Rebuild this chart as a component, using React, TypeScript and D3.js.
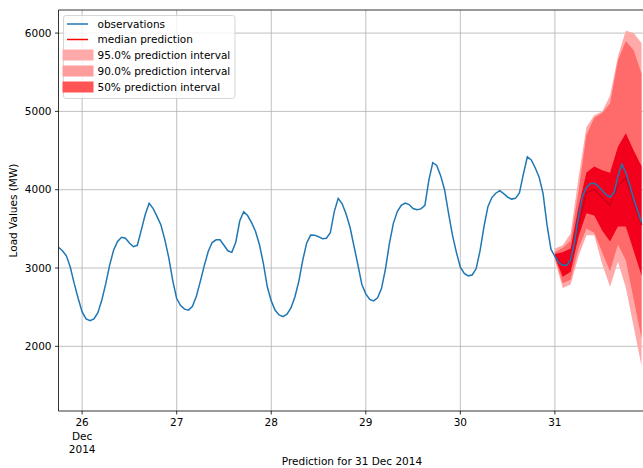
import React from 'react';
import * as d3 from 'd3';

// hourly load, starting 25 Dec 2014 18:00
const obsStart = new Date(2014, 11, 25, 18);
const observations = [
  3265, 3220, 3155, 3010, 2800, 2610,
  2440, 2350, 2327, 2350, 2430, 2591, 2800, 3040, 3230, 3340, 3392, 3380,
  3320, 3272, 3290, 3480, 3680, 3826, 3762, 3660, 3549, 3360, 3130, 2840,
  2610, 2520, 2475, 2462, 2510, 2640, 2830, 3030, 3210, 3325, 3360, 3360,
  3290, 3220, 3200, 3330, 3600, 3719, 3670, 3580, 3470, 3300, 3060, 2760,
  2580, 2460, 2400, 2378, 2410, 2490, 2630, 2830, 3100, 3320, 3421, 3420,
  3400, 3375, 3380, 3450, 3720, 3890, 3820, 3690, 3520, 3280, 3040, 2790,
  2670, 2600, 2580, 2620, 2740, 2990, 3315, 3570, 3720, 3800, 3830, 3810,
  3760, 3745, 3755, 3800, 4120, 4345, 4310, 4180, 4000, 3700, 3420, 3200,
  3010, 2932, 2900, 2911, 2990, 3220, 3530, 3783, 3900, 3955, 3987, 3950,
  3905, 3880, 3890, 3960, 4200, 4421, 4380, 4280, 4160, 3950, 3550, 3240,
  3150, 3070, 3035, 3035, 3102, 3330, 3650, 3911, 4030, 4078, 4082, 4045,
  3990, 3935, 3905, 3960, 4170, 4324, 4220, 4060, 3880, 3730, 3580,
];

// prediction for 31 Dec, every 2 hours
const predStart = new Date(2014, 11, 31, 0);
const predHours = [0, 2, 4, 6, 8, 10, 12, 14, 16, 18, 20, 22];
const median = [3150, 3040, 3080, 3550, 3960, 4000, 3900, 3800, 4050, 4150, 3850, 3550];
const upper95 = [3250, 3290, 3440, 4150, 4800, 4950, 5000, 5200, 5700, 6030, 6000, 5870];
const lower95 = [3100, 2745, 2790, 3150, 3420, 3420, 3050, 2760, 3080, 2750, 2250, 1750];
const upper90 = [3200, 3260, 3350, 3980, 4700, 4920, 4980, 5100, 5650, 5900, 5780, 5480];
const lower90 = [3120, 2805, 2850, 3250, 3500, 3450, 3200, 2960, 3300, 3100, 2600, 2100];
const upper50 = [3180, 3200, 3250, 3780, 4220, 4295, 4250, 4215, 4550, 4720, 4500, 4300];
const lower50 = [3140, 2890, 2953, 3400, 3700, 3670, 3480, 3340, 3530, 3530, 3220, 2900];

const yTicks = [2000, 3000, 4000, 5000, 6000];
const xTickDays = [26, 27, 28, 29, 30, 31];

const legendItems = [
  { label: 'observations', kind: 'line', color: '#1f77b4' },
  { label: 'median prediction', kind: 'line', color: '#ff0000' },
  { label: '95.0% prediction interval', kind: 'patch', color: '#ffaaaa' },
  { label: '90.0% prediction interval', kind: 'patch', color: '#ff9c9c' },
  { label: '50% prediction interval', kind: 'patch', color: '#ff5454' },
];

const W = 643;
const H = 468;
const font = 'DejaVu Sans, sans-serif';

export default function App() {
  const left = 58.5, right = 645.5, top = 10, bottom = 411;
  const x = d3.scaleTime()
    .domain([obsStart, new Date(2014, 11, 31, 23)])
    .range([left, right]);
  const y = d3.scaleLinear().domain([1174, 6295]).range([bottom, top]);

  const hourDate = (base: Date, h: number) => new Date(base.getTime() + h * 3600000);

  const obsLine = d3.line<number>()
    .x((d, i) => x(hourDate(obsStart, i)))
    .y(d => y(d));

  const predX = (i: number) => x(hourDate(predStart, predHours[i]));
  const band = (lo: number[], hi: number[]) =>
    d3.area<number>()
      .x((d, i) => predX(i))
      .y0((d, i) => y(lo[i]))
      .y1(d => y(d))(hi) || '';
  const medLine = d3.line<number>().x((d, i) => predX(i)).y(d => y(d));

  return (
    <svg width={W} height={H} style={{ position: 'absolute', left: 0, top: 0, background: '#fff' }}
      fontFamily={font}>
      <defs>
        <clipPath id="plot">
          <rect x={left} y={top} width={right - left} height={bottom - top} />
        </clipPath>
      </defs>
      <rect width={W} height={H} fill="#fff" />

      {/* grid */}
      <g stroke="#b0b0b0" strokeWidth={0.8}>
        {yTicks.map(t => (
          <line key={t} x1={left} x2={right} y1={y(t)} y2={y(t)} />
        ))}
        {xTickDays.map(d => {
          const px = x(new Date(2014, 11, d));
          return <line key={d} x1={px} x2={px} y1={top} y2={bottom} />;
        })}
      </g>

      <g clipPath="url(#plot)">
        <path d={band(lower95, upper95)} fill="#ffa9a9" />
        <path d={band(lower90, upper90)} fill="#ff6b6b" />
        <path d={band(lower50, upper50)} fill="#f2001c" />
        <path d={medLine(median) || ''} fill="none" stroke="#d0001a" strokeWidth={1.5} />
        <path d={obsLine(observations) || ''} fill="none" stroke="#1f77b4" strokeWidth={1.5} />
      </g>

      {/* spines */}
      <g stroke="#000" strokeWidth={0.8}>
        <line x1={left} x2={left} y1={top} y2={bottom} />
        <line x1={left} x2={right} y1={bottom} y2={bottom} />
        <line x1={left} x2={right} y1={top} y2={top} />
      </g>

      {/* y axis */}
      {yTicks.map(t => (
        <g key={t} transform={`translate(0,${y(t)})`}>
          <line x1={left - 3.5} x2={left} stroke="#000" strokeWidth={0.8} />
          <text x={left - 7} dy="0.36em" textAnchor="end" fontSize={10.5} fill="#000">{t}</text>
        </g>
      ))}
      <text transform={`translate(17,${(top + bottom) / 2}) rotate(-90)`} textAnchor="middle"
        fontSize={10.5} fill="#000">Load Values (MW)</text>

      {/* x axis */}
      {xTickDays.map((d, i) => {
        const px = x(new Date(2014, 11, d));
        return (
          <g key={d}>
            <line x1={px} x2={px} y1={bottom} y2={bottom + 3.5} stroke="#000" strokeWidth={0.8} />
            <text x={px} y={425.5} textAnchor="middle" fontSize={10.5} fill="#000">{d}</text>
            {i === 0 && (
              <>
                <text x={px} y={439.5} textAnchor="middle" fontSize={10.5} fill="#000">Dec</text>
                <text x={px} y={452.5} textAnchor="middle" fontSize={10.5} fill="#000">2014</text>
              </>
            )}
          </g>
        );
      })}
      <text x={352} y={464.5} textAnchor="middle" fontSize={10.5} fill="#000">Prediction for 31 Dec 2014</text>

      {/* legend */}
      <rect x={63.5} y={15.5} width={171.5} height={83} rx={2.5} fill="#fff" fillOpacity={0.8}
        stroke="#cccccc" strokeWidth={0.8} />
      {legendItems.map((it, i) => {
        const cy = i < 2 ? 24 + i * 15.5 : 55 + (i - 2) * 16;
        return (
          <g key={it.label}>
            {it.kind === 'line'
              ? <line x1={67} x2={88} y1={cy} y2={cy} stroke={it.color} strokeWidth={1.5} />
              : <rect x={62.5} y={cy - 5.5} width={31} height={11} fill={it.color} />}
            <text x={97.5} y={cy} dy="0.36em" fontSize={10.5} fill="#000">{it.label}</text>
          </g>
        );
      })}
    </svg>
  );
}
